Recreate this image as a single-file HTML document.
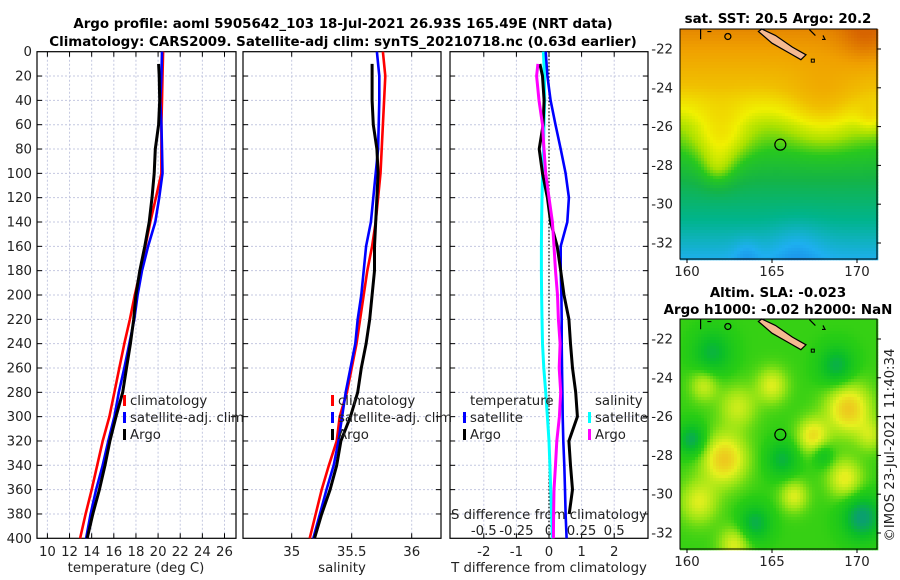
<!DOCTYPE html>
<html><head><meta charset="utf-8"><style>
body{margin:0;background:#fff;}
svg{display:block;font-family:"DejaVu Sans","Liberation Sans",sans-serif;}
.t{font-size:13.3px;fill:#222;}
.b{font-size:13.4px;font-weight:bold;fill:#000;}
</style></head><body>
<svg id="c" width="900" height="580" viewBox="0 0 900 580">
<text class="b" x="343" y="28" text-anchor="middle">Argo profile: aoml 5905642_103 18-Jul-2021 26.93S 165.49E (NRT data)</text>
<text class="b" x="343" y="46" text-anchor="middle">Climatology: CARS2009. Satellite-adj clim: synTS_20210718.nc (0.63d earlier)</text>
<text class="b" x="778" y="23" text-anchor="middle">sat. SST: 20.5 Argo: 20.2</text>
<text class="b" x="778" y="297" text-anchor="middle">Altim. SLA: -0.023</text>
<text class="b" x="778" y="314" text-anchor="middle">Argo h1000: -0.02 h2000: NaN</text>
<text class="t" transform="translate(894,445) rotate(-90)" text-anchor="middle">©IMOS 23-Jul-2021 11:40:34</text>
<g id="plots"></g>
</svg>
<script>
const depths=[0,20,40,60,80,100,120,140,160,180,200,220,240,260,280,300,320,340,360,380,400];
const tClim=[20.45,20.4,20.35,20.3,20.3,20.3,19.8,19.3,18.85,18.4,17.9,17.45,16.95,16.5,16.05,15.6,15.0,14.5,14.0,13.45,12.95];
const tSat=[20.35,20.3,20.2,20.3,20.35,20.4,20.1,19.75,19.1,18.55,18.15,17.85,17.4,16.95,16.45,16.05,15.5,15.0,14.4,13.9,13.5];
const argoDepths=[10,20,40,60,80,100,120,140,160,180,200,220,240,260,280,300,320,340,360,380,400];
const tArgo=[20.05,20.1,20.15,20.05,19.75,19.65,19.45,19.2,18.8,18.35,18.0,17.8,17.5,17.15,16.8,16.2,15.65,15.2,14.7,14.1,13.6];
const sClim=[35.76,35.78,35.77,35.76,35.75,35.74,35.72,35.7,35.67,35.63,35.6,35.57,35.54,35.5,35.46,35.4,35.375,35.31,35.25,35.2,35.15];
const sSat=[35.71,35.73,35.73,35.725,35.72,35.70,35.68,35.66,35.62,35.6,35.58,35.55,35.53,35.49,35.45,35.42,35.39,35.35,35.29,35.235,35.18];
const sArgo=[35.67,35.67,35.67,35.68,35.71,35.72,35.71,35.7,35.69,35.69,35.67,35.65,35.62,35.58,35.55,35.49,35.41,35.375,35.32,35.25,35.19];
const dTSat=[-0.1,-0.05,0.05,0.2,0.36,0.51,0.61,0.56,0.36,0.36,0.38,0.39,0.39,0.4,0.41,0.42,0.44,0.47,0.49,0.51,0.54];
const dTArgoDepths=[10,20,40,60,80,100,120,140,160,180,200,220,240,260,280,300,320,340,360,380];
const dTArgo=[-0.28,-0.2,-0.15,-0.18,-0.3,-0.2,-0.05,0.05,0.25,0.36,0.46,0.61,0.66,0.72,0.82,0.87,0.61,0.66,0.72,0.62];
const dSSat=[-0.043,-0.035,-0.033,-0.038,-0.043,-0.049,-0.054,-0.057,-0.058,-0.058,-0.057,-0.054,-0.05,-0.04,-0.025,-0.012,0,0.007,0.013,0.02,0.026];
const dSArgo=[-0.085,-0.095,-0.077,-0.05,-0.038,-0.025,0,0.026,0.038,0.05,0.065,0.072,0.085,0.078,0.09,0.08,0.06,0.05,0.038,0.035,0.034];
const depthTicks=[0,20,40,60,80,100,120,140,160,180,200,220,240,260,280,300,320,340,360,380,400];
const tTicks=[10,12,14,16,18,20,22,24,26];
const sTicks=[35,35.5,36];
const sTickLabels=["35","35.5","36"];
const dTTicks=[-2,-1,0,1,2];
const dSTicks=[-0.5,-0.25,0,0.25,0.5];
const dSTickLabels=["-0.5","-0.25","0","0.25","0.5"];
const latTicks=[-22,-24,-26,-28,-30,-32];
const lonTicks=[160,165,170];

const NS='http://www.w3.org/2000/svg';
const root=document.getElementById('plots');
function mk(tag,attrs,parent){const e=document.createElementNS(NS,tag);for(const k in attrs)e.setAttribute(k,attrs[k]);(parent||root).appendChild(e);return e;}
const Y0=51.7,Y1=538.3;
const yD=d=>Y0+(d/400)*(Y1-Y0);
function lin(d0,d1,r0,r1){return v=>r0+(v-d0)/(d1-d0)*(r1-r0);}
const panels=[
 {name:'temperature',x0:37,x1:236,sc:lin(10,26,47.4,224.5)},
 {name:'salinity',x0:243,x1:441,sc:lin(35,36,291.7,411.7)},
 {name:'difference',x0:450,x1:648,sc:lin(-2,2,483.8,614.2)}
];
const sDiff=lin(-0.5,0.5,483.8,614.2);
function txt(x,y,s,anchor,name,cls){const t=mk('text',{x:x,y:y,'text-anchor':anchor||'middle',class:cls||'t'});t.textContent=s;return t;}
function line(vals,ds,sc,color,name,w){let p='';vals.forEach((v,i)=>{p+=(i?'L':'M')+sc(v).toFixed(1)+','+yD(ds[i]).toFixed(1);});const e=mk('path',{d:p,fill:'none',stroke:color,'stroke-width':w||2.6,'stroke-linejoin':'round'});return e;}

panels.forEach((P,pi)=>{
 const g=mk('g',{});
 
 
 const xt=pi==0?tTicks:pi==1?sTicks:dTTicks;
 xt.forEach(v=>{const gl=mk('line',{x1:P.sc(v),x2:P.sc(v),y1:Y0,y2:Y1,stroke:'#c4c8e0','stroke-width':1,'stroke-dasharray':'2,2'},g);});
 depthTicks.forEach(d=>{if(d==0||d==400)return;const gl=mk('line',{x1:P.x0,x2:P.x1,y1:yD(d),y2:yD(d),stroke:'#c4c8e0','stroke-width':1,'stroke-dasharray':'2,2'},g);
  mk('line',{x1:P.x0,x2:P.x0+5,y1:yD(d),y2:yD(d),stroke:'#000'},g);mk('line',{x1:P.x1-5,x2:P.x1,y1:yD(d),y2:yD(d),stroke:'#000'},g);});
 xt.forEach(v=>{mk('line',{x1:P.sc(v),x2:P.sc(v),y1:Y1-5,y2:Y1,stroke:'#000'},g);mk('line',{x1:P.sc(v),x2:P.sc(v),y1:Y0,y2:Y0+5,stroke:'#000'},g);});
 const fr=mk('rect',{x:P.x0,y:Y0,width:P.x1-P.x0,height:Y1-Y0,fill:'none',stroke:'#000','stroke-width':1.2},g);
 
});
depthTicks.forEach(d=>txt(32,yD(d)+4.5,String(d),'end','depth-tick-label'));
tTicks.forEach(v=>txt(panels[0].sc(v),556,String(v),'middle','temperature-tick-label'));
sTicks.forEach((v,i)=>txt(panels[1].sc(v),556,sTickLabels[i],'middle','salinity-tick-label'));
dTTicks.forEach(v=>txt(panels[2].sc(v),556,String(v),'middle','t-difference-tick-label'));
dSTicks.forEach((v,i)=>txt(sDiff(v),535,dSTickLabels[i],'middle','s-difference-tick-label'));
txt(136,572,'temperature (deg C)','middle','temperature-axis-title');
txt(342,572,'salinity','middle','salinity-axis-title');
txt(549,572,'T difference from climatology','middle','t-difference-axis-title');
txt(549,519,'S difference from climatology','middle','s-difference-axis-title');
const z=mk('line',{x1:panels[2].sc(0),x2:panels[2].sc(0),y1:Y0,y2:Y1,stroke:'#000','stroke-width':1.2,'stroke-dasharray':'1.5,2'});

line(tClim,depths,panels[0].sc,'#ff0000','temperature-climatology-line');
line(tSat,depths,panels[0].sc,'#0000ff','temperature-satellite-adj-line');
line(tArgo,argoDepths,panels[0].sc,'#000','temperature-argo-line',3);
line(sClim,depths,panels[1].sc,'#ff0000','salinity-climatology-line');
line(sSat,depths,panels[1].sc,'#0000ff','salinity-satellite-adj-line');
line(sArgo,argoDepths,panels[1].sc,'#000','salinity-argo-line',3);
line(dSSat,depths,sDiff,'#00ffff','s-difference-satellite-line',3);
line(dTSat,depths,panels[2].sc,'#0000ff','t-difference-satellite-line');
line(dTArgo,dTArgoDepths,panels[2].sc,'#000','t-difference-argo-line',3);
line(dSArgo,argoDepths,sDiff,'#ff00ff','s-difference-argo-line',3);
function leg(x,y,color,label,name){const m=mk('rect',{x:x,y:y-10,width:3,height:11,fill:color});txt(x+7,y,label,'start',name+'-label');}
[[123,'#ff0000','climatology'],[123,'#0000ff','satellite-adj. clim'],[123,'#000','Argo']].forEach((a,i)=>leg(a[0],405+i*17,a[1],a[2],'temp-legend-'+i));
[[331,'#ff0000','climatology'],[331,'#0000ff','satellite-adj. clim'],[331,'#000','Argo']].forEach((a,i)=>leg(a[0],405+i*17,a[1],a[2],'sal-legend-'+i));
txt(470,405,'temperature','start','diff-legend-temperature-heading');
txt(595,405,'salinity','start','diff-legend-salinity-heading');
leg(463,422,'#0000ff','satellite','diff-legend-t-satellite');
leg(463,439,'#000','Argo','diff-legend-t-argo');
leg(588,422,'#00ffff','satellite','diff-legend-s-satellite');
leg(588,439,'#ff00ff','Argo','diff-legend-s-argo');

const MX0=680,MX1=877;
const lonX=lin(160,170,687,857);
function drawMap(top,bottom,colorFn,name){
 const latY=lin(-22,-32,top+20,top+214);
 const g=mk('g',{});
 
 
 const cs=3;
 for(let y=top;y<bottom;y+=cs){for(let x=MX0;x<MX1;x+=cs){
  const lon=160+(x+cs/2-687)/17, lat=-22-(y+cs/2-(top+20))/19.4;
  mk('rect',{x:x,y:y,width:cs+0.3,height:cs+0.3,fill:colorFn(lon,lat)},g);}}
 const isl=[[164.4,-20.97],[165.2,-21.3],[166.2,-21.9],[167.0,-22.3],[166.7,-22.55],[166.0,-22.2],[165.0,-21.7],[164.2,-21.1]];
 let p='';isl.forEach((q,i)=>{p+=(i?'L':'M')+lonX(q[0]).toFixed(1)+','+latY(q[1]).toFixed(1);});
 const il=mk('path',{d:p+'Z',fill:'#f5b991',stroke:'#000','stroke-width':1.2},g);
 
 mk('path',{d:`M${lonX(160.8)},${latY(-20.97)} L${lonX(160.8)},${latY(-21.5)} M${lonX(161.2)},${latY(-21.1)} l4,0 M${lonX(162.4)},${latY(-21.2)} a3,3 0 1,0 0.1,0`,fill:'none',stroke:'#000','stroke-width':1.2},g);
 mk('path',{d:`M${lonX(167.2)},${latY(-21.0)} l6,6 M${lonX(168.0)},${latY(-21.3)} l2,4 l-3,0`,fill:'none',stroke:'#000','stroke-width':1.2},g);
 mk('rect',{x:lonX(167.4)-1.5,y:latY(-22.6)-1.5,width:3,height:3,fill:'none',stroke:'#000','stroke-width':1},g);
 const c=mk('circle',{cx:lonX(165.49),cy:latY(-26.93),r:5.5,fill:'none',stroke:'#000','stroke-width':1.2},g);
 
 const fr=mk('rect',{x:MX0,y:top,width:MX1-MX0,height:bottom-top,fill:'none',stroke:'#000','stroke-width':1},g);
 
 latTicks.forEach(l=>{txt(673,latY(l)+4.5,String(l),'end','latitude-tick-label');mk('line',{x1:MX1,x2:MX1+4,y1:latY(l),y2:latY(l),stroke:'#000'});});
 lonTicks.forEach(l=>{txt(lonX(l),bottom+17,String(l),'middle','longitude-tick-label');mk('line',{x1:lonX(l),x2:lonX(l),y1:bottom,y2:bottom+4,stroke:'#000'});});
}
function ramp(stops,v){if(v<=stops[0][0])return `rgb(${stops[0][1]})`;for(let i=1;i<stops.length;i++){if(v<=stops[i][0]){const a=stops[i-1],b=stops[i],t=(v-a[0])/(b[0]-a[0]);const c=a[1].map((q,k)=>Math.round(q+(b[1][k]-q)*t));return `rgb(${c})`;}}return `rgb(${stops[stops.length-1][1]})`;}
const sstStops=[[17.8,[20,90,225]],[18.6,[30,175,240]],[19.3,[0,180,140]],[20.0,[20,180,70]],[20.6,[40,200,30]],[21.1,[170,225,0]],[21.6,[240,240,0]],[22.3,[240,190,0]],[23.0,[240,160,0]],[24.0,[215,100,0]]];
function bl(lon,lat,x,y,r){const d=((lon-x)**2+(lat-y)**2)/(r*r);return Math.exp(-d);}
function sst(lon,lat){
 let v=lat>-24?22.2+(lat+24)*0.4:lat>-26?21.0+(lat+26)*0.6:lat>-29?19.9+(lat+29)*0.37:19.9+(lat+29)*0.33;
 v+=0.9*bl(lon,lat,162,-26.5,1.6)+0.6*bl(lon,lat,161.8,-28.2,1.0)+0.7*bl(lon,lat,168,-25,2);
 v+=0.7*bl(lon,lat,170.5,-21.3,1.5)-0.3*bl(lon,lat,166.5,-32.3,1.5)-0.25*bl(lon,lat,163.5,-32.5,0.8);
 v+=0.5*bl(lon,lat,170.8,-25.5,0.8);
 return ramp(sstStops,v);
}
const slaStops=[[-1,[10,160,110]],[-0.5,[10,190,40]],[0,[40,205,20]],[0.4,[150,228,20]],[0.8,[230,240,30]],[1.3,[240,185,30]]];
function sla(lon,lat){
 let v=0.05;
 v+=1.1*bl(lon,lat,162.2,-28.2,1.3)+1.1*bl(lon,lat,169.5,-25.6,1.3)+0.9*bl(lon,lat,167.4,-27,0.9)+0.7*bl(lon,lat,165,-24.4,0.9);
 v+=0.7*bl(lon,lat,160.7,-30.4,1.1)+0.8*bl(lon,lat,169.3,-29.2,1.0)+0.7*bl(lon,lat,162.8,-32.6,0.9)+0.7*bl(lon,lat,166.3,-30.1,0.8)+0.6*bl(lon,lat,161,-24.4,0.8)+0.6*bl(lon,lat,163,-25.5,1.1)+0.5*bl(lon,lat,170.8,-27,0.8);
 v-=0.9*bl(lon,lat,160.3,-27.2,0.8)+0.7*bl(lon,lat,161.5,-22.7,1.1)+0.8*bl(lon,lat,168.8,-23.4,1)+1.1*bl(lon,lat,170.3,-31.2,1.1)+0.8*bl(lon,lat,164,-31.5,0.9)+0.7*bl(lon,lat,165.6,-28.2,0.9)+0.5*bl(lon,lat,168,-28,0.6);
 return ramp(slaStops,v);
}
drawMap(29,259,sst,'sst-map');
drawMap(319,549,sla,'sla-map');
</script>
</body></html>
